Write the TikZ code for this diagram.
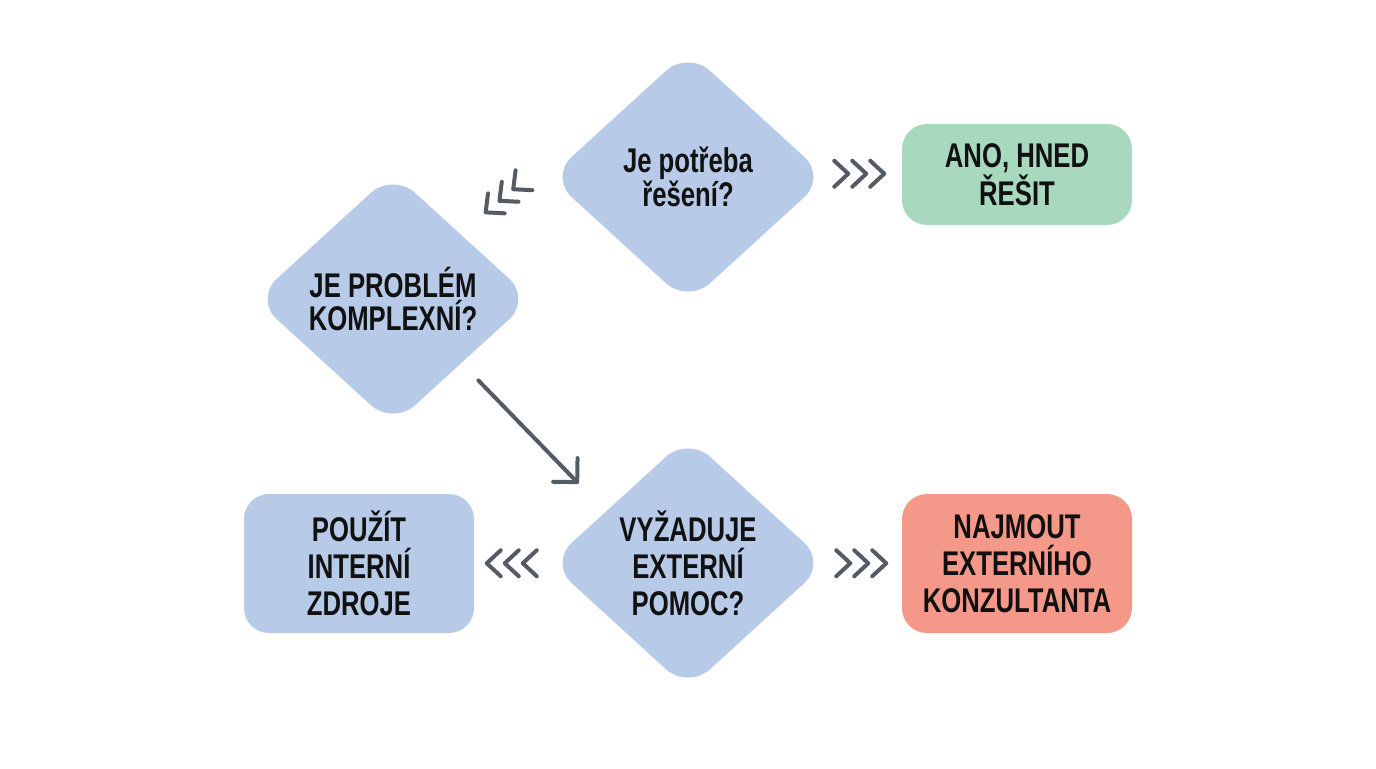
\documentclass[tikz,border=0pt]{standalone}
\usepackage{fontspec}
\setmainfont{Liberation Sans}[FakeStretch=0.75]
\usetikzlibrary{shapes.geometric,arrows.meta,calc}
\newlength\pxu
\setlength\pxu{0.02cm}
\definecolor{dblue}{HTML}{B7CBE8}
\definecolor{bgreen}{HTML}{A8D8BE}
\definecolor{bsalmon}{HTML}{F4998A}
\definecolor{chevgrey}{HTML}{555B63}
\definecolor{txt}{HTML}{111111}
\tikzset{
  dec/.style={diamond, fill=dblue, rounded corners=30\pxu, inner sep=0pt,
    minimum width=277\pxu, minimum height=253\pxu, align=center,
    text=txt, font=\bfseries\fontsize{19.5}{19}\selectfont},
  outbox/.style={rectangle, rounded corners=25\pxu, inner sep=0pt,
    minimum width=230\pxu, align=center,
    text=txt, font=\bfseries\fontsize{19.5}{19}\selectfont},
  threeline/.style={font=\bfseries\fontsize{19.5}{21}\selectfont},
  chevline/.style={draw=chevgrey, line width=4\pxu, line cap=round, line join=round},
  chevs/.pic={
    \foreach \i in {-18,0,18}
      \draw[chevline] (\i-7,-13) -- (\i+7,0) -- (\i-7,13);
  },
  flowarrow/.style={draw=chevgrey, line width=0.08cm, line cap=round,
    -{Straight Barb[length=0.34cm,width=0.68cm,round]}}
}
\begin{document}
\begin{tikzpicture}[x=0.02cm,y=-0.02cm]
\useasboundingbox (0,0) rectangle (1376,768);
\fill[white] (0,0) rectangle (1376,768);

\node[dec] (d1) at (688,177) {Je potřeba\\řešení?};
\node[dec] (d2) at (393,299) {JE PROBLÉM\\KOMPLEXNÍ?};
\node[dec, threeline] (d3) at (688,563) {VYŽADUJE\\EXTERNÍ\\POMOC?};

\node[outbox, fill=bgreen, minimum height=101\pxu] (ano) at (1017,174.5) {ANO, HNED\\ŘEŠIT};
\node[outbox, threeline, fill=bsalmon, minimum height=139\pxu] (naj) at (1017,563.5) {NAJMOUT\\EXTERNÍHO\\KONZULTANTA};
\node[outbox, threeline, fill=dblue, minimum height=139\pxu] (pou) at (359,563.5) {POUŽÍT\\INTERNÍ\\ZDROJE};

% chevron connectors
\pic at ($($(d1.east)!0.5!(ano.west)$)+(-5,-2)$) {chevs};
\pic[rotate=220] at ($($(d1.west)!0.5!(d2.north east)$)+(-1,-10)$) {chevs};
\pic at ($($(d3.east)!0.5!(naj.west)$)+(-3,0)$) {chevs};
\pic[rotate=180] at ($(d3.west)!0.5!(pou.east)$) {chevs};

% arrow
\draw[flowarrow] ([shift={(16,18)}]d2.south east) -- ([shift={(-40,-16)}]d3.north west);
\end{tikzpicture}
\end{document}
